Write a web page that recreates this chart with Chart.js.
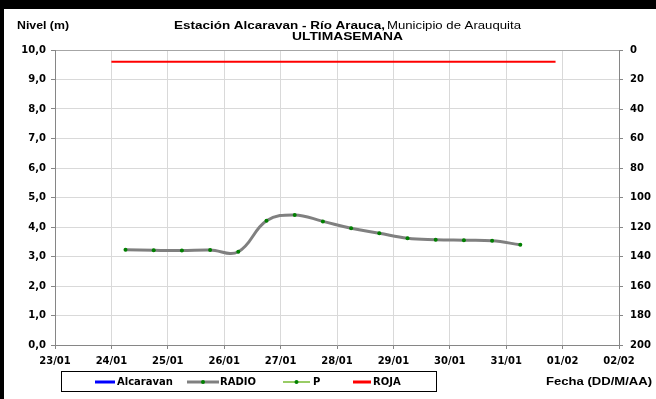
<!DOCTYPE html>
<html>
<head>
<meta charset="utf-8">
<script src="https://cdn.jsdelivr.net/npm/chart.js@4.4.0/dist/chart.umd.min.js"></script>
<style>
  html, body { margin: 0; padding: 0; background: #fff; }
  #wrap { position: relative; width: 656px; height: 399px; }
</style>
</head>
<body>
<div id="wrap"><canvas id="myChart" width="656" height="399"></canvas></div>
<script>
// x axis labels, one per day
const xTickLabels = ['23/01', '24/01', '25/01', '26/01', '27/01', '28/01', '29/01', '30/01', '31/01', '01/02', '02/02'];

// RADIO readings every 12 h
const fechasRadio = ['24/01 06:00', '24/01 18:00', '25/01 06:00', '25/01 18:00', '26/01 06:00', '26/01 18:00',
    '27/01 06:00', '27/01 18:00', '28/01 06:00', '28/01 18:00', '29/01 06:00', '29/01 18:00',
    '30/01 06:00', '30/01 18:00', '31/01 06:00'];
const nivelRadio = [3.23, 3.21, 3.20, 3.22, 3.16, 4.21, 4.41, 4.19, 3.96, 3.79, 3.62, 3.57, 3.55, 3.53, 3.40];

// alert level (roja)
const fechasRoja = ['24/01 00:00', '31/01 21:00'];
const nivelRoja = [9.6, 9.6];

// Alcaravan and P have no readings this week
const nivelAlcaravan = [];
const lluviaP = [];

const FONT = { family: 'DejaVu Sans', size: 10, weight: 'bold' };
const GRID = '#d9d9d9';
const AXIS = '#868686';

// "DD/MM HH:MM" -> days after 23/01
function toDays(s) {
    const [d, t] = s.split(' ');
    const [dd, mm] = d.split('/').map(Number);
    const [hh, mi] = t.split(':').map(Number);
    const day = mm === 1 ? dd : 31 + dd;
    return day - 23 + (hh + mi / 60) / 24;
}

function pts(fechas, vals) {
    return vals.map((v, i) => ({ x: toDays(fechas[i]), y: v }));
}

// draws text squeezed / stretched to a given width
function fitText(ctx, str, x, y, w, font) {
    ctx.font = font;
    const m = ctx.measureText(str).width;
    ctx.save();
    ctx.translate(x, y);
    ctx.scale(w / m, 1);
    ctx.fillText(str, 0, 0);
    ctx.restore();
}

const decor = {
    id: 'decor',
    beforeDraw(chart) {
        const ctx = chart.ctx;
        ctx.save();
        ctx.fillStyle = '#fff';
        ctx.fillRect(0, 0, chart.width, chart.height);
        ctx.fillStyle = '#000';
        ctx.fillRect(0, 0, chart.width, 9);
        ctx.fillRect(0, 0, 4, chart.height);
        ctx.restore();
    },
    afterDraw(chart) {
        const ctx = chart.ctx;
        const ds = chart.data.datasets;
        ctx.save();
        ctx.fillStyle = '#000';
        ctx.textBaseline = 'middle';
        ctx.textAlign = 'left';

        fitText(ctx, 'Nivel (m)', 17, 26, 52, 'bold 11px "Liberation Sans"');
        fitText(ctx, 'Estación Alcaravan - Río Arauca,', 174, 26, 211, 'bold 11.5px "Liberation Sans"');
        fitText(ctx, 'Municipio de Arauquita', 387, 26, 134, '11.5px "Liberation Sans"');
        fitText(ctx, 'ULTIMASEMANA', 292, 37, 111, 'bold 11.5px "Liberation Sans"');
        fitText(ctx, 'Fecha (DD/M/AA)', 546, 382, 106, 'bold 11px "Liberation Sans"');

        // legend box
        ctx.strokeStyle = '#000';
        ctx.lineWidth = 1;
        ctx.strokeRect(61.5, 371.5, 375, 20);

        const items = [
            { ds: ds[0], x0: 95, x1: 115, tx: 117, w: 3 },
            { ds: ds[1], x0: 187, x1: 219, tx: 220, w: 3, dot: true },
            { ds: ds[2], x0: 283, x1: 310, tx: 313, w: 2, dot: true },
            { ds: ds[3], x0: 353, x1: 371, tx: 373, w: 3 }
        ];
        const ly = 382;
        items.forEach(it => {
            ctx.strokeStyle = it.ds.borderColor;
            ctx.lineWidth = it.w;
            ctx.beginPath();
            ctx.moveTo(it.x0, ly);
            ctx.lineTo(it.x1, ly);
            ctx.stroke();
            if (it.dot) {
                ctx.fillStyle = '#008000';
                ctx.beginPath();
                ctx.arc((it.x0 + it.x1) / 2, ly, 2, 0, Math.PI * 2);
                ctx.fill();
            }
            ctx.fillStyle = '#000';
            ctx.font = 'bold 10px "DejaVu Sans"';
            ctx.fillText(it.ds.label, it.tx, ly);
        });
        ctx.restore();
    }
};

const ctx = document.getElementById('myChart').getContext('2d');
const myChart = new Chart(ctx, {
    type: 'line',
    data: {
        datasets: [
            {
                label: 'Alcaravan',
                data: pts([], nivelAlcaravan),
                borderColor: '#0000ff',
                borderWidth: 2,
                pointRadius: 0,
                yAxisID: 'y'
            },
            {
                label: 'RADIO',
                data: pts(fechasRadio, nivelRadio),
                borderColor: '#808080',
                borderWidth: 3,
                tension: 0.4,
                pointRadius: 2,
                pointBackgroundColor: '#008000',
                pointBorderWidth: 0,
                yAxisID: 'y'
            },
            {
                label: 'P',
                data: pts([], lluviaP),
                borderColor: '#99cc66',
                borderWidth: 2,
                pointRadius: 2,
                pointBackgroundColor: '#008000',
                yAxisID: 'y2'
            },
            {
                label: 'ROJA',
                data: pts(fechasRoja, nivelRoja),
                borderColor: '#ff0000',
                borderWidth: 2,
                pointRadius: 0,
                yAxisID: 'y'
            }
        ]
    },
    options: {
        responsive: false,
        animation: false,
        devicePixelRatio: 1,
        layout: { padding: { top: 50, left: 0, right: 0, bottom: 0 } },
        plugins: {
            legend: { display: false },
            tooltip: { enabled: false }
        },
        scales: {
            x: {
                type: 'linear',
                position: 'bottom',
                min: 0,
                max: 10,
                ticks: {
                    stepSize: 1,
                    autoSkip: false,
                    maxRotation: 0,
                    padding: 6,
                    color: '#000',
                    font: FONT,
                    callback: v => xTickLabels[Math.round(v)]
                },
                grid: { color: GRID, tickColor: AXIS, tickLength: 4 },
                border: { color: AXIS },
                afterFit: s => { s.height = 54; }
            },
            y: {
                position: 'left',
                min: 0,
                max: 10,
                ticks: {
                    stepSize: 1,
                    padding: 5,
                    color: '#000',
                    font: FONT,
                    callback: v => v.toFixed(1).replace('.', ',')
                },
                grid: {
                    color: c => (c.tick && c.tick.value === 10 ? '#a6a6a6' : GRID),
                    tickColor: AXIS,
                    tickLength: 4
                },
                border: { color: AXIS },
                afterFit: s => { s.width = 55; }
            },
            y2: {
                position: 'right',
                reverse: true,
                min: 0,
                max: 200,
                ticks: { stepSize: 20, padding: 7, color: '#000', font: FONT },
                grid: { drawOnChartArea: false, tickColor: AXIS, tickLength: 4 },
                border: { color: AXIS },
                afterFit: s => { s.width = 37; }
            }
        }
    },
    plugins: [decor]
});
</script>
</body>
</html>
